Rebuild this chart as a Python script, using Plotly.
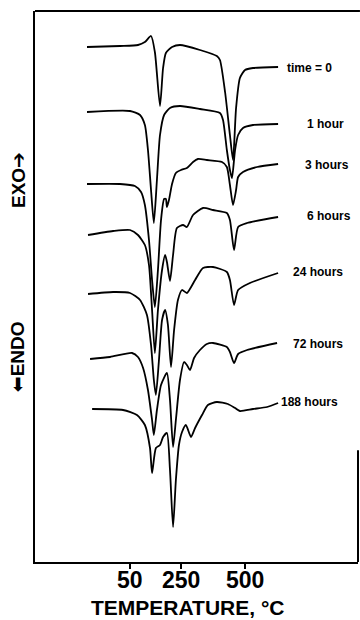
import plotly.graph_objects as go

# Temperatures (deg C) and DTA signal (arbitrary units, stacked)
t0_T = [-116, 13, 83, 110, 134, 149, 169, 181, 192, 216, 247, 325, 391, 403, 423, 442, 454, 466, 481, 501, 532, 630]
t0_y = [515, 516, 517, 520, 526, 510, 456, 494, 509, 515, 517, 512, 506, 502, 470, 427, 402, 454, 484, 492, 494, 495]

h1_T = [-116, 52, 91, 110, 122, 134, 145, 157, 169, 185, 208, 247, 325, 403, 415, 430, 442, 450, 462, 474, 493, 532, 630]
h1_y = [450, 451, 447, 437, 412, 372, 339, 382, 427, 447, 454, 456, 453, 449, 442, 412, 392, 384, 412, 427, 434, 437, 438]

h3_T = [-116, 13, 71, 95, 110, 126, 138, 149, 161, 173, 185, 192, 196, 204, 216, 231, 251, 274, 298, 317, 352, 411, 430, 442, 454, 466, 474, 493, 548, 630]
h3_y = [378, 378, 376, 370, 357, 322, 282, 255, 292, 342, 363, 363, 355, 362, 378, 389, 392, 394, 400, 403, 402, 400, 395, 377, 357, 372, 385, 390, 395, 398]

h6_T = [-112, -14, 52, 83, 110, 126, 138, 149, 161, 177, 189, 196, 208, 220, 235, 259, 274, 298, 337, 376, 430, 442, 458, 474, 509, 630]
h6_y = [327, 331, 332, 327, 317, 297, 252, 209, 252, 292, 307, 300, 281, 307, 334, 337, 335, 347, 354, 352, 349, 342, 312, 335, 339, 345]

h24_T = [-112, -14, 52, 91, 118, 134, 145, 153, 165, 177, 189, 200, 212, 224, 239, 255, 274, 306, 337, 376, 430, 442, 458, 474, 520, 630]
h24_y = [268, 270, 269, 262, 247, 217, 182, 167, 202, 242, 252, 237, 195, 232, 262, 272, 269, 282, 294, 295, 290, 282, 257, 272, 279, 289]

h72_T = [-104, -26, 60, 83, 103, 122, 138, 145, 157, 173, 196, 208, 220, 231, 247, 263, 274, 286, 302, 325, 352, 376, 430, 442, 458, 474, 509, 626]
h72_y = [203, 205, 209, 205, 194, 172, 142, 127, 152, 177, 189, 162, 115, 142, 182, 200, 197, 192, 204, 212, 218, 219, 215, 210, 199, 208, 212, 219]

h188_T = [-96, 25, 79, 110, 130, 138, 153, 169, 181, 196, 208, 220, 231, 243, 255, 270, 290, 306, 333, 356, 391, 434, 462, 481, 532, 587, 630]
h188_y = [153, 152, 147, 137, 114, 89, 114, 117, 125, 129, 92, 35, 82, 117, 130, 137, 125, 134, 147, 157, 160, 158, 154, 151, 153, 155, 159]

labels = ["time = 0", "1 hour", "3 hours", "6 hours", "24 hours", "72 hours", "188 hours"]
label_T = [657, 735, 728, 735, 680, 680, 634]
label_y = [494, 438, 397, 346, 290, 218, 160]

tick_vals = [50, 250, 500]
tick_text = ["50", "250", "500"]

series = [(t0_T, t0_y), (h1_T, h1_y), (h3_T, h3_y), (h6_T, h6_y),
          (h24_T, h24_y), (h72_T, h72_y), (h188_T, h188_y)]

fig = go.Figure()
for (xs, ys), name in zip(series, labels):
    fig.add_trace(go.Scatter(x=xs, y=ys, mode="lines", name=name,
                             line=dict(color="black", width=1.8, shape="spline", smoothing=0.6),
                             showlegend=False, hoverinfo="skip"))

FONT = "Liberation Sans, Arial, sans-serif"
for txt, lx, ly in zip(labels, label_T, label_y):
    fig.add_annotation(x=lx, y=ly, xref="x", yref="y", text="<b>" + txt + "</b>",
                       showarrow=False, xanchor="left", yanchor="middle",
                       font=dict(family=FONT, size=12, color="black"))

# tick labels placed at the tick values
for tv, tt in zip(tick_vals, tick_text):
    fig.add_annotation(x=tv, y=-0.033, xref="x", yref="paper", text="<b>" + tt + "</b>",
                       showarrow=False, xanchor="center", yanchor="middle",
                       font=dict(family=FONT, size=23, color="black"))

# axis titles
fig.add_annotation(x=0.474, y=-0.083, xref="paper", yref="paper",
                   text="<b>TEMPERATURE, °C</b>", showarrow=False,
                   xanchor="center", yanchor="middle",
                   font=dict(family=FONT, size=21, color="black"))
fig.add_annotation(x=-0.053, y=0.693, xref="paper", yref="paper",
                   text="<b>EXO</b><span style='font-family:DejaVu Sans'>➔</span>",
                   textangle=-90, showarrow=False,
                   xanchor="center", yanchor="middle",
                   font=dict(family=FONT, size=19, color="black"))
fig.add_annotation(x=-0.055, y=0.372, xref="paper", yref="paper",
                   text="<span style='font-family:DejaVu Sans'>⬅</span><b>ENDO</b>",
                   textangle=-90, showarrow=False,
                   xanchor="center", yanchor="middle",
                   font=dict(family=FONT, size=19, color="black"))

# frame pieces (top and partial right)
fig.add_shape(type="line", xref="paper", yref="paper", x0=0, x1=1.006, y0=1, y1=1,
              line=dict(color="black", width=2))
fig.add_shape(type="line", xref="paper", yref="paper", x0=1, x1=1, y0=0, y1=0.203,
              line=dict(color="black", width=2))

fig.update_layout(
    width=360, height=620,
    margin=dict(l=35, r=2, t=11, b=58),
    paper_bgcolor="white", plot_bgcolor="white",
    xaxis=dict(range=[-319, 942], tickvals=tick_vals, showticklabels=False,
               ticks="outside", ticklen=5, tickwidth=2, tickcolor="black",
               showline=True, linecolor="black", linewidth=2, showgrid=False,
               zeroline=False),
    yaxis=dict(range=[0, 551], showticklabels=False, ticks="", showline=True,
               linecolor="black", linewidth=2, showgrid=False, zeroline=False),
)

fig.write_html("out.html")
